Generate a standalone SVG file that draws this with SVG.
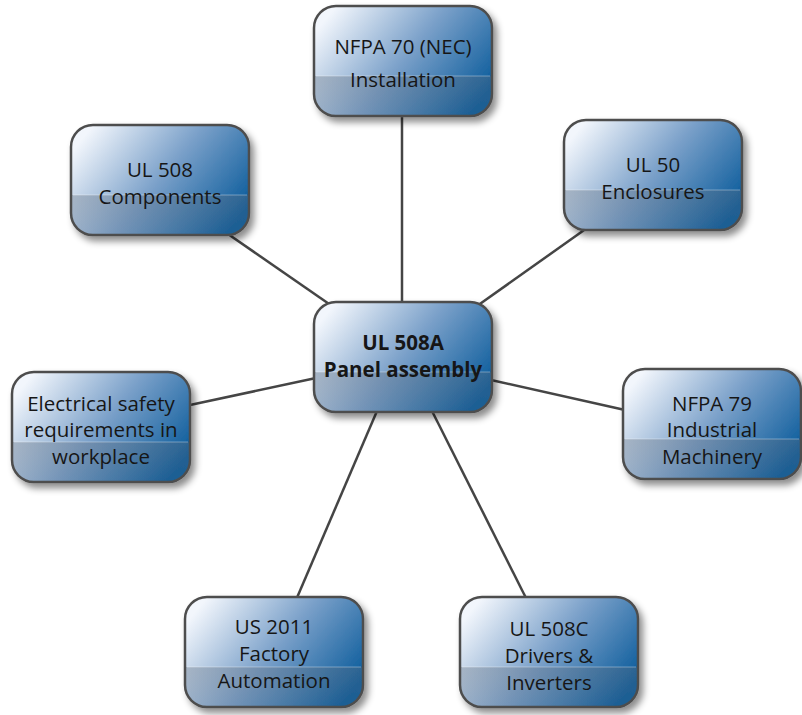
<svg xmlns="http://www.w3.org/2000/svg" width="802" height="715" viewBox="0 0 802 715">
<defs>
<linearGradient id="g" x1="0" y1="0.25" x2="1" y2="0.75">
<stop offset="0" stop-color="#f2f6fc"/>
<stop offset="0.5" stop-color="#7aa0c9"/>
<stop offset="1" stop-color="#0a5b9b"/>
</linearGradient>
<linearGradient id="lo" x1="0" y1="0" x2="0" y2="1">
<stop offset="0" stop-color="#5f6b7a" stop-opacity="0.34"/>
<stop offset="1" stop-color="#5f6b7a" stop-opacity="0.2"/>
</linearGradient>
<filter id="sh" x="-20%" y="-20%" width="140%" height="150%">
<feDropShadow dx="4" dy="5" stdDeviation="3.5" flood-color="#000" flood-opacity="0.45"/>
</filter>
<clipPath id="c"><rect x="0" y="0" width="178" height="110" rx="22"/></clipPath>
<g id="box">
<rect x="0" y="0" width="178" height="110" rx="22" fill="url(#g)"/>
<rect x="0" y="70" width="178" height="40" fill="url(#lo)" clip-path="url(#c)"/>
<line x1="2" y1="70" x2="176" y2="70" stroke="#ffffff" stroke-opacity="0.35" stroke-width="1"/>
<rect x="0" y="0" width="178" height="110" rx="22" fill="none" stroke="#4e4e4e" stroke-width="2.5"/>
</g>
</defs>
<style>
text{font-family:"Open Sans","Noto Sans","DejaVu Sans",sans-serif;font-size:20.5px;fill:#161616;text-anchor:middle}
.b{font-weight:bold}
.e{stroke:#454545;stroke-width:2.5;fill:none}
</style>
<g id="connectors">
<line class="e" x1="402" y1="115" x2="402" y2="305"/>
<line class="e" x1="228" y1="234" x2="332" y2="306"/>
<line class="e" x1="587" y1="228" x2="477" y2="306"/>
<line class="e" x1="190" y1="405" x2="316" y2="378"/>
<line class="e" x1="491" y1="380" x2="625" y2="410"/>
<line class="e" x1="296" y1="600" x2="377" y2="411"/>
<line class="e" x1="527" y1="600" x2="432" y2="411"/>
</g>
<g id="n-nfpa70" filter="url(#sh)"><use href="#box" x="314" y="6"/></g>
<g id="n-nfpa70-t"><text x="403" y="54">NFPA 70 (NEC)</text><text x="403" y="87">Installation</text></g>
<g id="n-ul508" filter="url(#sh)"><use href="#box" x="71" y="125"/></g>
<g id="n-ul508-t"><text x="160" y="177">UL 508</text><text x="160" y="204">Components</text></g>
<g id="n-ul50" filter="url(#sh)"><use href="#box" x="564" y="120"/></g>
<g id="n-ul50-t"><text x="653" y="172">UL 50</text><text x="653" y="199">Enclosures</text></g>
<g id="n-center" filter="url(#sh)"><use href="#box" x="314" y="302"/></g>
<g id="n-center-t"><text class="b" x="403" y="350">UL 508A</text><text class="b" x="403" y="377">Panel assembly</text></g>
<g id="n-elec" filter="url(#sh)"><use href="#box" x="12" y="372"/></g>
<g id="n-elec-t"><text x="101" y="411">Electrical safety</text><text x="101" y="437">requirements in</text><text x="101" y="464">workplace</text></g>
<g id="n-nfpa79" filter="url(#sh)"><use href="#box" x="623" y="369"/></g>
<g id="n-nfpa79-t"><text x="712" y="411">NFPA 79</text><text x="712" y="437">Industrial</text><text x="712" y="464">Machinery</text></g>
<g id="n-us2011" filter="url(#sh)"><use href="#box" x="185" y="597"/></g>
<g id="n-us2011-t"><text x="274" y="634">US 2011</text><text x="274" y="661">Factory</text><text x="274" y="688">Automation</text></g>
<g id="n-ul508c" filter="url(#sh)"><use href="#box" x="460" y="597"/></g>
<g id="n-ul508c-t"><text x="549" y="636">UL 508C</text><text x="549" y="663">Drivers &amp;</text><text x="549" y="690">Inverters</text></g>
</svg>
